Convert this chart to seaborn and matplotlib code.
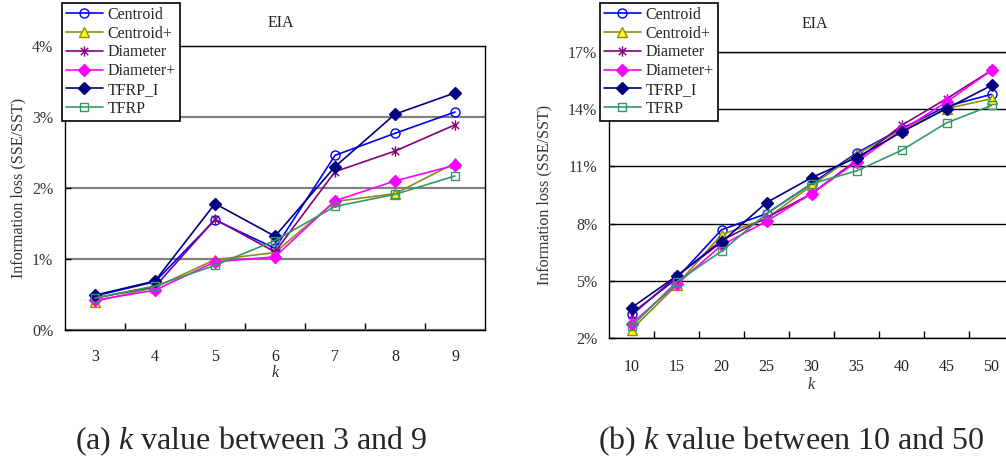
import matplotlib
matplotlib.use("Agg")
import matplotlib.pyplot as plt
from matplotlib.path import Path
import seaborn as sns

# ---------------- data ----------------
series = ["Centroid", "Centroid+", "Diameter", "Diameter+", "TFRP_I", "TFRP"]

k_small = [3, 4, 5, 6, 7, 8, 9]
small_centroid = [0.48, 0.68, 1.55, 1.15, 2.46, 2.77, 3.07]
small_centroid_plus = [0.40, 0.60, 0.99, 1.09, 1.81, 1.92, 2.35]
small_diameter = [0.45, 0.61, 1.56, 1.10, 2.23, 2.52, 2.89]
small_diameter_plus = [0.42, 0.56, 0.96, 1.03, 1.82, 2.10, 2.32]
small_tfrp_i = [0.49, 0.69, 1.78, 1.32, 2.30, 3.04, 3.34]
small_tfrp = [0.45, 0.62, 0.91, 1.26, 1.74, 1.91, 2.17]

k_large = [10, 15, 20, 25, 30, 35, 40, 45, 50]
large_centroid = [3.28, 5.11, 7.68, 8.52, 10.09, 11.70, 12.98, 14.15, 14.78]
large_centroid_plus = [2.44, 4.76, 7.42, 8.26, 10.00, 11.63, 12.93, 14.03, 14.55]
large_diameter = [3.19, 5.23, 7.12, 8.31, 9.57, 11.32, 13.15, 14.55, 16.04]
large_diameter_plus = [2.75, 4.81, 6.86, 8.12, 9.57, 11.23, 12.89, 14.38, 16.04]
large_tfrp_i = [3.59, 5.25, 7.03, 9.10, 10.41, 11.46, 12.80, 14.03, 15.25]
large_tfrp = [2.61, 4.94, 6.55, 8.52, 10.09, 10.76, 11.84, 13.28, 14.20]

small_yticks = [0, 1, 2, 3, 4]
small_yticklabels = ["0%", "1%", "2%", "3%", "4%"]
large_yticks = [2, 5, 8, 11, 14, 17]
large_yticklabels = ["2%", "5%", "8%", "11%", "14%", "17%"]

title_text = "EIA"
ylabel_text = "Information loss (SSE/SST)"
xlabel_text = "k"
caption_a = "(a) $k$ value between 3 and 9"
caption_b = "(b) $k$ value between 10 and 50"

# ---------------- style ----------------
sns.set_theme(style="white")
plt.rcParams["font.family"] = ["Liberation Serif", "DejaVu Serif"]
plt.rcParams["mathtext.fontset"] = "custom"
plt.rcParams["mathtext.rm"] = "Liberation Serif"
plt.rcParams["mathtext.it"] = "Liberation Serif:italic"

star = Path([(0, -1), (0, 1), (-0.72, -0.72), (0.72, 0.72), (-0.72, 0.72), (0.72, -0.72)],
            [Path.MOVETO, Path.LINETO, Path.MOVETO, Path.LINETO, Path.MOVETO, Path.LINETO])

styles = {
    "Centroid":  dict(color="#0000FF", marker="o", markerfacecolor="none", markeredgecolor="#0000FF", markersize=6.5),
    "Centroid+": dict(color="#8C8C1A", marker="^", markerfacecolor="#FFFF00", markeredgecolor="#8C8C1A", markersize=7),
    "Diameter":  dict(color="#800080", marker=star, markerfacecolor="none", markeredgecolor="#800080", markersize=7.5),
    "Diameter+": dict(color="#FF00FF", marker="D", markerfacecolor="#FF00FF", markeredgecolor="#FF00FF", markersize=6),
    "TFRP_I":    dict(color="#000080", marker="D", markerfacecolor="#000080", markeredgecolor="#000080", markersize=6),
    "TFRP":      dict(color="#339966", marker="s", markerfacecolor="none", markeredgecolor="#339966", markersize=6),
}

W, H = 1006, 457
fig = plt.figure(figsize=(W / 100, H / 100), dpi=100)
axL = fig.add_axes([65 / W, 1 - 330 / H, 420 / W, 284 / H])
axR = fig.add_axes([609 / W, 1 - 338 / H, 405 / W, 286 / H])

small_vals = [small_centroid, small_centroid_plus, small_diameter,
              small_diameter_plus, small_tfrp_i, small_tfrp]
large_vals = [large_centroid, large_centroid_plus, large_diameter,
              large_diameter_plus, large_tfrp_i, large_tfrp]

for name, vals in zip(series, small_vals):
    sns.lineplot(x=k_small, y=vals, ax=axL, label=name, linewidth=1.2,
                 markeredgewidth=1.0, zorder=3, **styles[name])
for name, vals in zip(series, large_vals):
    sns.lineplot(x=k_large, y=vals, ax=axR, label=name, linewidth=1.2,
                 markeredgewidth=1.0, zorder=3, **styles[name])


def style_axes(ax, ks, yticks, yticklabels, grid_color, grid_lw, title_xy, leg_xy,
               ylabelpad, xpad, xlabel_pad):
    step = ks[1] - ks[0]
    ax.set_xlim(ks[0] - step / 2, ks[-1] + step / 2)
    ax.set_ylim(yticks[0], yticks[-1])
    ax.set_xticks(ks)
    ax.set_xticklabels([str(k) for k in ks])
    ax.set_xticks([k + step / 2 for k in ks[:-1]], minor=True)
    ax.set_yticks(yticks)
    ax.set_yticklabels(yticklabels)
    ax.tick_params(axis="x", which="major", length=0, pad=xpad, labelsize=11.5, colors="#222222")
    ax.tick_params(axis="x", which="minor", length=5, width=1, direction="in", color="black", bottom=True)
    ax.tick_params(axis="y", which="major", length=4, width=1, direction="in", pad=8.5,
                   labelsize=11.5, color="black", left=True, labelcolor="#333333")
    ax.set_axisbelow(True)
    ax.grid(False)
    ax.yaxis.grid(True, color=grid_color, linewidth=grid_lw)
    for s in ax.spines.values():
        s.set_visible(True)
        s.set_color("black")
        s.set_linewidth(1.0)
    ax.set_ylabel(ylabel_text, fontsize=11.5, labelpad=ylabelpad, color="#333333")
    ax.set_xlabel(xlabel_text, fontsize=11.5, fontstyle="italic", labelpad=xlabel_pad, color="#333333")
    fig.text(title_xy[0] / W, 1 - title_xy[1] / H, title_text, fontsize=11.5,
             ha="center", va="center", color="#222222")
    leg = ax.legend(loc="upper left", bbox_to_anchor=(leg_xy[0] / W, 1 - leg_xy[1] / H),
                    bbox_transform=fig.transFigure, borderaxespad=0, fontsize=11.5,
                    handlelength=2.3, handletextpad=0.3, labelspacing=0.17,
                    borderpad=0.25, frameon=True, fancybox=False, framealpha=1,
                    edgecolor="black")
    leg.get_frame().set_linewidth(1.2)
    leg.set_zorder(10)


style_axes(axL, k_small, small_yticks, small_yticklabels, "#808080", 1.6,
           (281, 23), (62, 3), 4, 14, 0)
style_axes(axR, k_large, large_yticks, large_yticklabels, "black", 1.0,
           (815, 24), (600, 3), 11, 15, 1.5)

fig.text(251 / W, 1 - 449 / H, caption_a, fontsize=23, ha="center", va="baseline")
fig.text(791 / W, 1 - 449 / H, caption_b, fontsize=23, ha="center", va="baseline")

fig.savefig("out.png", dpi=100)
